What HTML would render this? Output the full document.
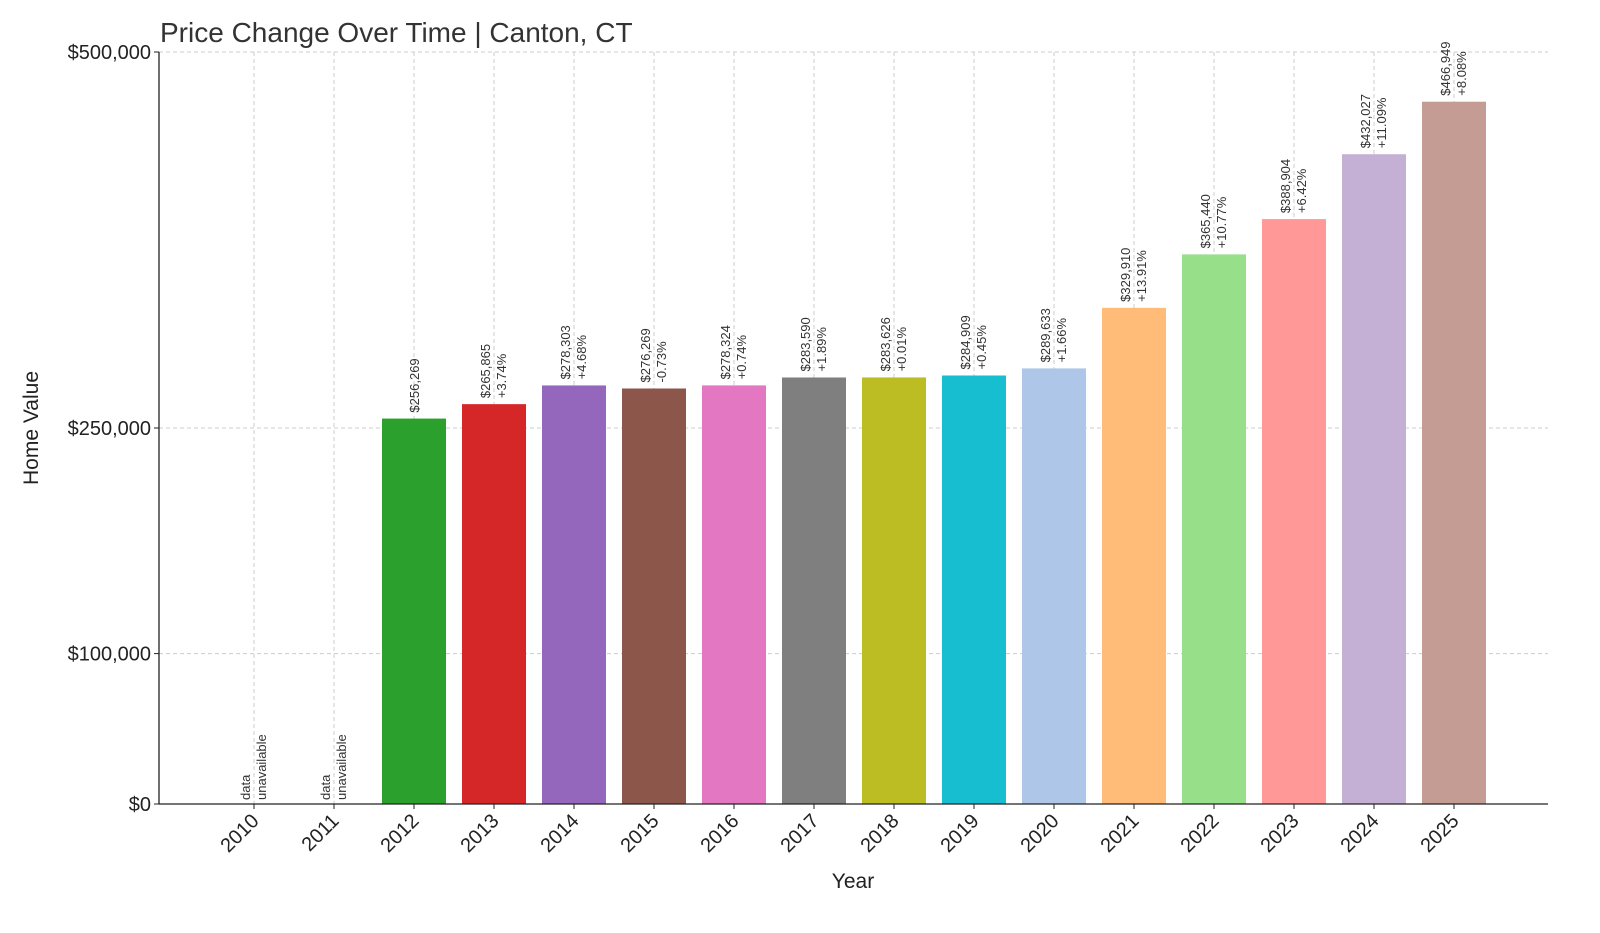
<!DOCTYPE html>
<html><head><meta charset="utf-8"><style>
html,body{margin:0;padding:0;background:#fff;}
svg{display:block;font-family:"Liberation Sans","DejaVu Sans",sans-serif;}
</style></head><body>
<svg id="chart" width="1600" height="933" viewBox="0 0 1600 933" xmlns="http://www.w3.org/2000/svg">
<text x="160" y="42" font-size="28" fill="#333">Price Change Over Time | Canton, CT</text>
<text x="38" y="428" font-size="21" fill="#222" text-anchor="middle" transform="rotate(-90 38 428)">Home Value</text>
<text x="853" y="888" font-size="21" fill="#222" text-anchor="middle">Year</text>
<g id="grid"></g><g id="bars"></g><g id="labels"></g><g id="axes"></g>
</svg>
<script>
const years=["2010","2011","2012","2013","2014","2015","2016","2017","2018","2019","2020","2021","2022","2023","2024","2025"];
const values=[null,null,256269,265865,278303,276269,278324,283590,283626,284909,289633,329910,365440,388904,432027,466949];
const changes=[null,null,null,"+3.74%","+4.68%","-0.73%","+0.74%","+1.89%","+0.01%","+0.45%","+1.66%","+13.91%","+10.77%","+6.42%","+11.09%","+8.08%"];
const yTicks=[0,100000,250000,500000];
const yTickLabels=["$0","$100,000","$250,000","$500,000"];
const colors=["#1f77b4","#ff7f0e","#2ca02c","#d62728","#9467bd","#8c564b","#e377c2","#7f7f7f","#bcbd22","#17becf","#aec7e8","#ffbb78","#98df8a","#ff9896","#c5b0d5","#c49c94"];
const NS="http://www.w3.org/2000/svg";
const x0=159,x1=1548,yB=804,yT=52;
const xs=i=>254+i*80;
const ys=v=>yB-(v/500000)*(yB-yT);
function mk(p,t,a){const e=document.createElementNS(NS,t);for(const k in a)e.setAttribute(k,a[k]);document.getElementById(p).appendChild(e);return e;}
yTicks.forEach((v,i)=>{
 const g=mk("grid","line",{x1:x0,x2:x1,y1:ys(v),y2:ys(v),stroke:"#ccc","stroke-dasharray":"4,3","stroke-width":1});
 
 
 const tk=mk("axes","line",{x1:x0-5,x2:x0,y1:ys(v),y2:ys(v),stroke:"#222"});
 
 
 const t=mk("axes","text",{x:x0-8,y:ys(v)+7,"font-size":20,fill:"#222","text-anchor":"end"});
 t.textContent=yTickLabels[i];
 
 
});
years.forEach((y,i)=>{
 const cx=xs(i);
 const g=mk("grid","line",{x1:cx,x2:cx,y1:yT,y2:yB,stroke:"#ccc","stroke-dasharray":"4,3","stroke-width":1});
 
 
 const tk=mk("axes","line",{x1:cx,x2:cx,y1:yB,y2:yB+5,stroke:"#222"});
 
 
 const t=mk("axes","text",{x:cx+6,y:yB+18,"font-size":20,fill:"#222","text-anchor":"end",transform:`rotate(-45 ${cx+6} ${yB+18})`});
 t.textContent=y;
 
 
 const v=values[i];
 if(v==null){
  const l=mk("labels","text",{x:0,y:0,"font-size":13,fill:"#333",transform:`translate(${cx},${yB-4}) rotate(-90)`});
  
  
  const a=mk("labels","tspan",{});l.appendChild(a);a.setAttribute("x",0);a.setAttribute("dy",-4);a.textContent="data";
  const b=mk("labels","tspan",{});l.appendChild(b);b.setAttribute("x",0);b.setAttribute("dy",16);b.textContent="unavailable";
  return;
 }
 const top=ys(v);
 const r=mk("bars","rect",{x:cx-32,y:top,width:64,height:yB-top,fill:colors[i]});
 
 
 const l=mk("labels","text",{x:0,y:0,"font-size":13,fill:"#333",transform:`translate(${cx},${top-6}) rotate(-90)`});
 
 
 const vs="$"+v.toLocaleString("en-US");
 if(changes[i]==null){
  const a=mk("labels","tspan",{});l.appendChild(a);a.setAttribute("x",0);a.setAttribute("dy",5);a.textContent=vs;
 }else{
  const a=mk("labels","tspan",{});l.appendChild(a);a.setAttribute("x",0);a.setAttribute("dy",-4);a.textContent=vs;
  const b=mk("labels","tspan",{});l.appendChild(b);b.setAttribute("x",0);b.setAttribute("dy",16);b.textContent=changes[i];
 }
});
const sl=mk("axes","line",{x1:x0,x2:x0,y1:yT,y2:yB,stroke:"#222","stroke-width":1.3});


const sb=mk("axes","line",{x1:x0,x2:x1,y1:yB,y2:yB,stroke:"#222","stroke-width":1.3});


</script>
</body></html>
